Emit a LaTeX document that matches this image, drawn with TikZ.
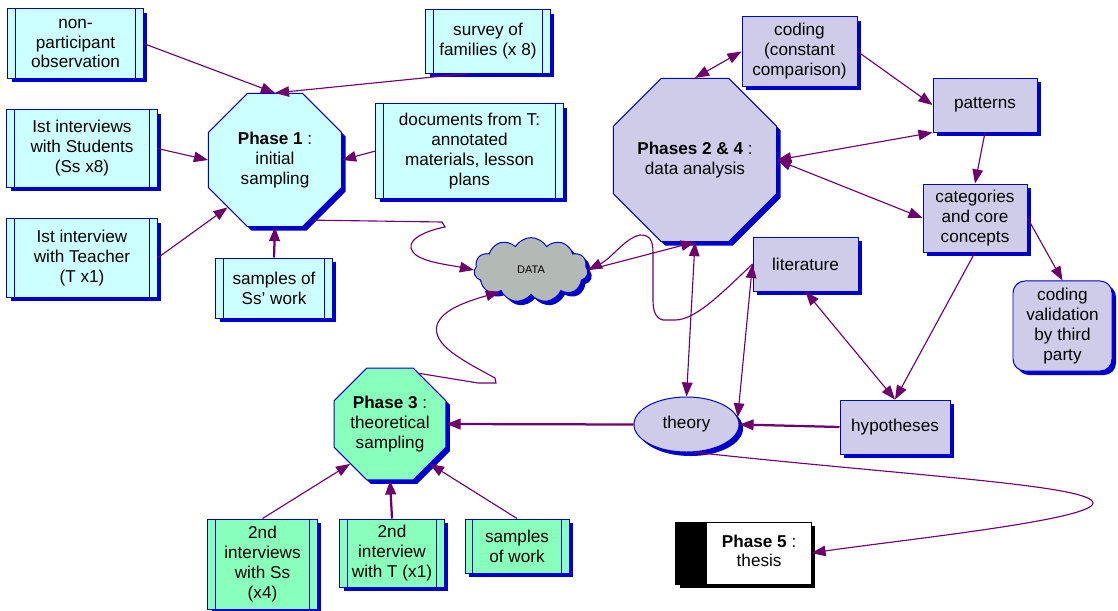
\documentclass[tikz,border=0pt]{standalone}
\usepackage{fontspec}
\setmainfont{Liberation Sans}
\usepackage{tikz}
\usetikzlibrary{arrows.meta,shapes.geometric,shapes.symbols,shadows}
\definecolor{cblue}{RGB}{0,0,204}
\definecolor{ccyan}{RGB}{204,255,255}
\definecolor{cmint}{RGB}{136,255,187}
\definecolor{clilac}{RGB}{207,204,233}
\definecolor{cgrey}{RGB}{179,186,181}
\definecolor{cpurple}{RGB}{110,0,110}

\begin{document}
\begin{tikzpicture}[x=0.025cm,y=-0.025cm,>={Triangle[length=10pt,width=7.5pt]},
  every node/.style={font=\fontsize{12.2}{14.2}\selectfont,align=center,inner sep=1pt,line width=0.7pt},
  shade node/.style={drop shadow={shadow xshift=0.1cm,shadow yshift=-0.1cm,fill=cblue,opacity=1}},
  source node/.style={rectangle,draw=cblue,fill=ccyan,shade node,
    path picture={\draw[cblue,line width=0.7pt]
      ([xshift=0.18cm]path picture bounding box.north west) -- ([xshift=0.18cm]path picture bounding box.south west)
      ([xshift=-0.18cm]path picture bounding box.north east) -- ([xshift=-0.18cm]path picture bounding box.south east);}},
  second node/.style={source node,fill=cmint},
  analysis node/.style={rectangle,draw=cblue,fill=clilac,shade node},
  phase node/.style={regular polygon,regular polygon sides=8,inner sep=0pt,draw=cblue,shade node},
  link/.style={cpurple,line width=0.8pt},
  main link/.style={cpurple,line width=1.6pt}]
  \useasboundingbox (0,0) rectangle (1118,611);
  \node[source node,minimum width=3.375cm,minimum height=1.725cm] (1) at (75.5,43.5) {non-\\participant\\observation};
  \node[source node,minimum width=3.75cm,minimum height=1.925cm] (2) at (82,148.5) {Ist interviews\\with Students\\(Ss x8)};
  \node[source node,minimum width=3.75cm,minimum height=1.95cm] (3) at (82,258) {Ist interview\\with Teacher\\(T x1)};
  \node[source node,minimum width=2.9cm,minimum height=1.5cm] (4) at (274,288) {samples of\\Ss' work};
  \node[phase node,fill=ccyan,minimum size=3.6cm] (5) at (275,160) {\textbf{Phase 1} :\\initial\\sampling};
  \node[source node,minimum width=3.1cm,minimum height=1.575cm] (6) at (488,41.5) {survey of\\families (x 8)};
  \node[source node,minimum width=4.675cm,minimum height=2.35cm] (7) at (469.5,151) {documents from T:\\annotated\\materials, lesson\\plans};
  \node[cloud,cloud puffs=11,cloud puff arc=120,aspect=1.8,draw=cblue,fill=cgrey,shade node,
    minimum width=2.85cm,minimum height=1.62cm,inner sep=0pt,font=\fontsize{7.8}{9}\selectfont] (8) at (531,270) {DATA};
  \node[phase node,fill=clilac,minimum size=4cm] (9) at (695,160) {\textbf{Phases 2 \& 4} :\\data analysis};
  \node[analysis node,minimum width=2.875cm,minimum height=1.725cm] (10) at (799.5,51.5) {coding\\(constant\\comparison)};
  \node[analysis node,minimum width=2.6cm,minimum height=1.35cm] (11) at (985,105) {patterns};
  \node[analysis node,minimum width=2.6cm,minimum height=1.7cm] (12) at (975,218) {categories\\and core\\concepts};
  \node[analysis node,rounded corners=0.3cm,minimum width=2.475cm,minimum height=2.25cm] (13) at (1062.5,326) {coding\\validation\\by third\\party};
  \node[analysis node,minimum width=2.625cm,minimum height=1.35cm] (14) at (805.5,264) {literature};
  \node[analysis node,minimum width=2.75cm,minimum height=1.35cm] (15) at (895,427) {hypotheses};
  \node[ellipse,draw=cblue,fill=clilac,shade node,minimum width=2.625cm,minimum height=1.375cm] (16) at (686.5,424.5) {theory};
  \node[phase node,fill=cmint,minimum size=2.87cm] (17) at (390,424) {\textbf{Phase 3} :\\theoretical\\sampling};
  \node[second node,minimum width=2.725cm,minimum height=2.25cm] (18) at (262.5,564) {2nd\\interviews\\with Ss\\(x4)};
  \node[second node,minimum width=2.6cm,minimum height=1.7cm] (19) at (392,553) {2nd\\interview\\with T (x1)};
  \node[second node,minimum width=2.6cm,minimum height=1.35cm] (20) at (517,546) {samples\\of work};
  \node[rectangle,draw=black,fill=white,minimum width=3.375cm,minimum height=1.55cm,
    drop shadow={shadow xshift=0.1cm,shadow yshift=-0.1cm,fill=black,opacity=1},
    path picture={\fill[black] (path picture bounding box.north west) rectangle ([xshift=0.775cm]path picture bounding box.south west);}]
    (21) at (743.5,553) {\hspace*{0.78cm}\begin{tabular}{@{}c@{}}\textbf{Phase 5} :\\thesis\end{tabular}};

  \path[link,->]
    (1.east) edge (5.north)
    ([xshift=-0.5cm]6.south) edge (5.north)
    (2.east) edge (5.west)
    (3.east) edge (5.225)
    (7.west) edge (5.east)
    (4.north) edge[main link] (5.south)
    (8.east) edge (9.south)
    (9.north) edge[<->] (10.west)
    (10.east) edge (11.west)
    (11.south west) edge[<->] (9.east)
    (9.east) edge[<->] (12.west)
    (11.south) edge (12.north)
    (12.east) edge (13.north)
    (12.south) edge (15.north)
    (14.south) edge[<->] (15.north)
    (9.south) edge[<->] (16.north)
    (16.8) edge[<->] (14.west)
    (15.west) edge[main link] (16.east)
    (16.west) edge[main link] (17.east)
    (18.north) edge (17.225)
    (19.north) edge[main link] (17.south)
    (20.north) edge (17.315);
  \draw[link,->] (5.300) -- (442,222) -- (445,227) .. controls (420,232) and (405,242) .. (413,252)
    .. controls (420,262) and (450,265) .. (8.west);
  \draw[link,->] (17.60) -- (478,383) -- (496,383) -- (495,378) .. controls (462,360) and (432,345) .. (437,325)
    .. controls (442,310) and (465,302) .. (8.215);
  \draw[link,->] (14.west) .. controls (720,295) and (695,320) .. (675,320) -- (663,320)
    .. controls (655,318) and (653,310) .. (653,300) -- (653,253) .. controls (653,240) and (650,235) .. (640,235)
    .. controls (625,238) and (612,258) .. (8.east);
  \draw[link,->] (16.285) .. controls (900,475) and (1093,485) .. (1093,503)
    .. controls (1093,520) and (900,540) .. (21.east);
\end{tikzpicture}
\end{document}
